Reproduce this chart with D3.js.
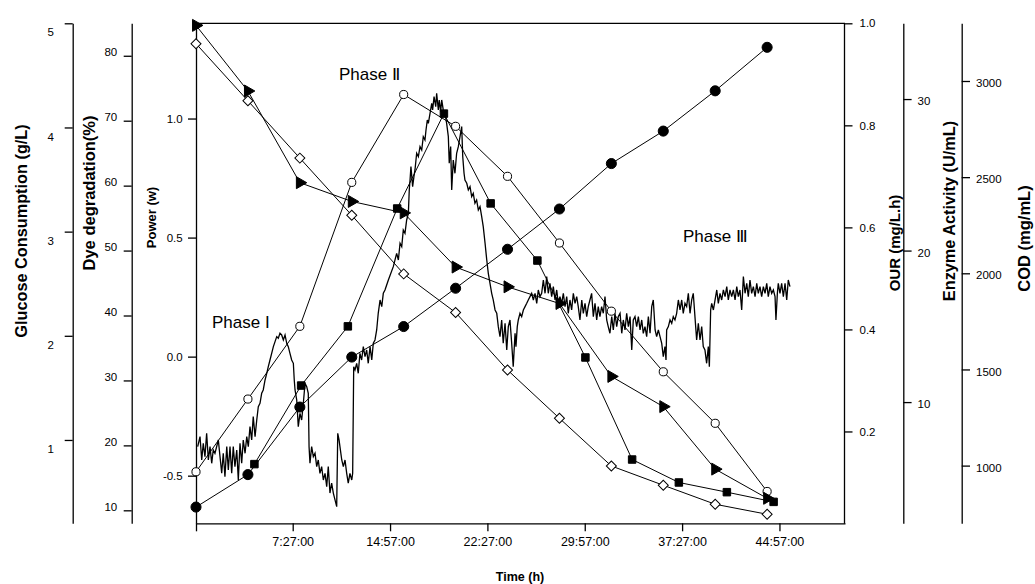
<!DOCTYPE html>
<html>
<head>
<meta charset="utf-8">
<script src="https://cdn.jsdelivr.net/npm/d3@7"></script>
<style>
body { margin: 0; background: #fff; }
text { font-family: "Liberation Sans", Arial, Helvetica, sans-serif; }
</style>
</head>
<body>
<svg id="chart" width="1035" height="584"></svg>
<script>

// time axis (h) and its tick labels
var xTickHours = [7.45, 14.95, 22.45, 29.95, 37.45, 44.95];
var xTickLabels = ["7:27:00", "14:57:00", "22:27:00", "29:57:00", "37:27:00", "44:57:00"];

// offline samples, every 4 h
var sampleHours = [0, 4, 8, 12, 16, 20, 24, 28, 32, 36, 40, 44];
var dyeDegradation = [10.5, 15.5, 25.9, 33.6, 38.3, 44.2, 50.2, 56.4, 63.4, 68.4, 74.6, 81.3];   // filled circles
var enzymeActivity = [5.4, 10.2, 15.0, 24.5, 30.3, 28.2, 24.9, 20.5, 16.0, 12.0, 8.6, 4.1];     // open circles
var glucose = [4.98, 4.35, 3.47, 3.29, 3.18, 2.66, 2.47, 2.31, 1.61, 1.32, 0.72, 0.44];           // triangles
var cod = [3194, 2897, 2599, 2302, 1997, 1796, 1497, 1246, 998, 898, 799, 747];                  // open diamonds

// OUR was sampled on its own schedule
var ourHours = [4.5, 8.1, 11.7, 15.5, 19.1, 22.7, 26.3, 30.0, 33.6, 37.2, 40.9, 44.5];
var ourValues = [0.136, 0.290, 0.406, 0.637, 0.823, 0.647, 0.535, 0.345, 0.145, 0.100, 0.081, 0.062];

// online power signal [h, W]
var powerTrace = [
[0.13,-0.378],[0.31,-0.336],[0.44,-0.434],[0.56,-0.364],[0.69,-0.420],[0.82,-0.322],[0.95,-0.434],[1.08,-0.378],
[1.21,-0.448],[1.33,-0.392],[1.46,-0.406],[1.72,-0.350],[1.85,-0.420],[1.98,-0.490],[2.10,-0.406],[2.23,-0.504],
[2.37,-0.378],[2.49,-0.476],[2.62,-0.378],[2.75,-0.490],[2.87,-0.378],[3.00,-0.462],[3.14,-0.392],[3.26,-0.518],
[3.39,-0.364],[3.52,-0.448],[3.64,-0.350],[3.78,-0.406],[3.91,-0.336],[4.03,-0.378],[4.16,-0.294],[4.29,-0.350],
[4.41,-0.252],[4.55,-0.336],[4.68,-0.266],[4.80,-0.210],[4.93,-0.196],[5.06,-0.154],[5.18,-0.140],[5.32,-0.098],
[5.45,-0.070],[5.57,-0.042],[5.70,-0.014],[5.83,0.014],[5.96,0.042],[6.09,0.063],[6.22,0.084],[6.34,0.077],
[6.47,0.098],[6.60,0.091],[6.73,0.070],[6.86,0.091],[6.99,0.056],[7.11,0.042],[7.24,0.014],[7.37,-0.014],
[7.50,-0.028],[7.57,-0.098],[7.63,-0.140],[7.76,-0.182],[7.88,-0.294],[8.01,-0.238],[8.14,-0.266],[8.27,-0.196],
[8.40,-0.112],[8.53,-0.126],[8.65,-0.154],[8.71,-0.378],[8.78,-0.448],[8.91,-0.378],[9.04,-0.420],[9.17,-0.406],
[9.30,-0.462],[9.42,-0.434],[9.55,-0.490],[9.68,-0.462],[9.81,-0.518],[9.94,-0.490],[10.07,-0.546],[10.19,-0.462],
[10.32,-0.573],[10.45,-0.531],[10.58,-0.573],[10.71,-0.602],[10.84,-0.630],[10.92,-0.322],[11.02,-0.350],[11.09,-0.378],
[11.23,-0.434],[11.35,-0.462],[11.48,-0.434],[11.61,-0.490],[11.73,-0.531],[11.86,-0.490],[12.00,-0.518],[12.07,-0.490],
[12.15,-0.042],[12.25,-0.056],[12.38,-0.028],[12.50,-0.070],[12.63,0.014],[12.76,-0.014],[12.89,0.042],[13.02,0.000],
[13.15,0.028],[13.27,-0.028],[13.41,0.042],[13.54,-0.014],[13.66,0.056],[13.79,0.070],[13.92,0.112],[14.04,0.182],
[14.18,0.238],[14.31,0.210],[14.43,0.266],[14.56,0.280],[14.82,0.322],[15.20,0.378],[15.46,0.434],[15.59,0.406],
[15.72,0.476],[15.85,0.462],[15.97,0.532],[16.10,0.518],[16.23,0.574],[16.36,0.602],[16.43,0.700],[16.49,0.742],
[16.56,0.798],[16.69,0.714],[16.79,0.756],[16.87,0.784],[17.00,0.854],[17.13,0.840],[17.26,0.882],[17.39,0.868],
[17.51,0.924],[17.64,0.910],[17.72,0.952],[17.82,0.994],[17.90,0.980],[18.03,1.022],[18.16,1.064],[18.23,1.036],
[18.34,1.092],[18.47,1.050],[18.54,1.106],[18.67,1.036],[18.74,1.078],[18.85,1.029],[18.93,1.078],[19.05,1.036],
[19.18,1.022],[19.31,0.980],[19.44,0.924],[19.51,0.812],[19.62,0.882],[19.70,0.700],[19.82,0.826],[19.95,0.770],
[20.08,0.854],[20.21,0.882],[20.34,0.924],[20.47,0.966],[20.55,0.840],[20.65,0.770],[20.72,0.742],[20.86,0.728],
[20.98,0.700],[21.11,0.714],[21.24,0.672],[21.36,0.686],[21.49,0.644],[21.62,0.658],[21.75,0.616],[21.88,0.630],
[22.01,0.588],[22.13,0.546],[22.27,0.476],[22.40,0.406],[22.52,0.350],[22.65,0.308],[22.78,0.266],[22.90,0.238],
[23.04,0.196],[23.17,0.182],[23.29,0.126],[23.42,0.084],[23.55,0.154],[23.67,0.056],[23.81,0.140],[23.94,0.028],
[24.06,0.126],[24.19,0.154],[24.32,0.056],[24.44,-0.042],[24.58,0.098],[24.65,0.042],[24.75,0.126],[24.83,0.154],
[24.96,0.182],[25.09,0.168],[25.22,0.196],[25.35,0.210],[25.48,0.224],[25.60,0.238],[25.73,0.252],[25.86,0.266],
[25.99,0.238],[26.12,0.266],[26.25,0.224],[26.37,0.280],[26.50,0.252],[26.63,0.266],[26.76,0.322],[26.89,0.266],
[27.02,0.336],[27.14,0.266],[27.27,0.308],[27.40,0.252],[27.53,0.294],[27.66,0.238],[27.79,0.280],[27.91,0.224],
[28.04,0.252],[28.17,0.224],[28.30,0.266],[28.43,0.210],[28.56,0.252],[28.68,0.182],[28.81,0.238],[28.94,0.196],
[29.07,0.266],[29.20,0.224],[29.33,0.252],[29.45,0.210],[29.58,0.154],[29.72,0.238],[29.84,0.182],[29.97,0.224],
[30.10,0.168],[30.22,0.210],[30.35,0.238],[30.48,0.266],[30.61,0.168],[30.74,0.224],[30.87,0.154],[30.99,0.210],
[31.12,0.168],[31.25,0.210],[31.38,0.182],[31.51,0.252],[31.64,0.154],[31.76,0.126],[31.89,0.098],[32.03,0.168],
[32.15,0.112],[32.28,0.182],[32.41,0.126],[32.53,0.168],[32.67,0.182],[32.80,0.098],[32.92,0.154],[33.05,0.112],
[33.18,0.182],[33.31,0.126],[33.44,0.168],[33.57,0.028],[33.69,0.154],[33.82,0.168],[33.95,0.126],[34.08,0.168],
[34.21,0.112],[34.34,0.154],[34.46,0.098],[34.59,0.126],[34.72,0.084],[34.85,0.168],[34.98,0.098],[35.11,0.210],
[35.23,0.238],[35.37,0.112],[35.49,0.084],[35.62,0.112],[35.75,0.084],[35.88,0.056],[36.00,0.000],[36.13,0.042],
[36.21,-0.014],[36.26,0.112],[36.39,0.126],[36.52,0.154],[36.65,0.140],[36.77,0.168],[36.90,0.154],[37.03,0.182],
[37.16,0.238],[37.29,0.196],[37.42,0.238],[37.54,0.182],[37.67,0.224],[37.80,0.210],[37.93,0.266],[38.06,0.182],
[38.19,0.238],[38.31,0.266],[38.44,0.168],[38.57,0.070],[38.70,0.140],[38.83,0.070],[38.96,0.126],[39.08,0.042],
[39.21,0.028],[39.34,-0.028],[39.47,0.042],[39.55,-0.042],[39.65,0.196],[39.73,0.224],[39.86,0.196],[39.99,0.238],
[40.12,0.280],[40.24,0.224],[40.37,0.266],[40.50,0.238],[40.63,0.280],[40.76,0.252],[40.89,0.294],[41.01,0.238],
[41.14,0.280],[41.27,0.252],[41.40,0.280],[41.53,0.238],[41.66,0.294],[41.78,0.252],[41.91,0.280],[42.04,0.196],
[42.17,0.336],[42.30,0.266],[42.43,0.308],[42.55,0.252],[42.68,0.322],[42.81,0.266],[42.94,0.294],[43.07,0.252],
[43.20,0.308],[43.32,0.266],[43.45,0.294],[43.58,0.252],[43.71,0.294],[43.84,0.266],[43.97,0.308],[44.09,0.252],
[44.22,0.294],[44.35,0.266],[44.48,0.280],[44.61,0.252],[44.68,0.154],[44.79,0.266],[44.86,0.308],[44.99,0.266],
[45.12,0.308],[45.25,0.252],[45.38,0.308],[45.51,0.238],[45.63,0.322],[45.76,0.294]
];

var svg = d3.select("#chart");
var top_ = 23.3, bottom = 523.3;

var x = d3.scaleLinear().domain([0, 50]).range([196, 845]);
var yPower = d3.scaleLinear().domain([-0.7, 1.4]).range([bottom, top_]);
var yGlu = d3.scaleLinear().domain([0.2, 5]).range([bottom, top_]);
var yDye = d3.scaleLinear().domain([8, 85]).range([bottom, top_]);
var yOur = d3.scaleLinear().domain([0.02, 1.0]).range([bottom, top_]);
var yEnz = d3.scaleLinear().domain([2, 35]).range([bottom, top_]);
var yCod = d3.scaleLinear().domain([700, 3300]).range([bottom, top_]);

function styleAxis(g, size) {
    g.selectAll("path, line").attr("stroke", "#000").attr("stroke-width", 1.3);
    g.selectAll("text").attr("fill", "#000").style("font-size", size + "px")
        .style("font-family", "'Liberation Sans', Arial, sans-serif");
}
var fmt1 = function(d){ return d.toFixed(1); };
var fmtInt = d3.format("d");

// bottom time axis
var gx = svg.append("g").attr("transform", "translate(0," + bottom + ")")
    .call(d3.axisBottom(x).tickValues([0].concat(xTickHours))
        .tickFormat(function(d, i){ return i == 0 ? "" : xTickLabels[i - 1]; })
        .tickSize(8).tickSizeOuter(0).tickPadding(6));
styleAxis(gx, 12.5);

// top frame
svg.append("line").attr("x1", x.range()[0]).attr("x2", x.range()[1])
    .attr("y1", top_).attr("y2", top_).attr("stroke", "#000").attr("stroke-width", 1.3);

// left axes
var gGlu = svg.append("g").attr("transform", "translate(72.7,0)")
    .call(d3.axisLeft(yGlu).tickValues([1, 2, 3, 4, 5]).tickFormat(fmtInt).tickSize(8).tickSizeOuter(0));
styleAxis(gGlu, 11.5);
gGlu.selectAll(".tick text").attr("x", -22).attr("y", 9).attr("text-anchor", "middle");

var gDye = svg.append("g").attr("transform", "translate(131.7,0)")
    .call(d3.axisLeft(yDye).tickValues([10, 20, 30, 40, 50, 60, 70, 80]).tickFormat(fmtInt).tickSize(8).tickSizeOuter(0).tickPadding(6.5));
styleAxis(gDye, 11.5);
gDye.selectAll(".tick text").attr("y", -4);

var gPow = svg.append("g").attr("transform", "translate(196,0)")
    .call(d3.axisLeft(yPower).tickValues([-0.5, 0, 0.5, 1.0]).tickFormat(fmt1).tickSize(8).tickSizeOuter(0).tickPadding(5.3));
styleAxis(gPow, 11.5);

// right axes
var gOur = svg.append("g").attr("transform", "translate(844,0)")
    .call(d3.axisRight(yOur).tickValues([0.2, 0.4, 0.6, 0.8, 1.0]).tickFormat(fmt1).tickSize(8.5).tickSizeOuter(0).tickPadding(7));
styleAxis(gOur, 11.5);

var gEnz = svg.append("g").attr("transform", "translate(903.3,0)")
    .call(d3.axisRight(yEnz).tickValues([10, 20, 30]).tickFormat(fmtInt).tickSize(8.3).tickSizeOuter(0).tickPadding(6));
styleAxis(gEnz, 11.5);
gEnz.selectAll(".tick text").attr("y", 2);

var gCod = svg.append("g").attr("transform", "translate(961.7,0)")
    .call(d3.axisRight(yCod).tickValues([1000, 1500, 2000, 2500, 3000]).tickFormat(fmtInt).tickSize(8.3).tickSizeOuter(0).tickPadding(6));
styleAxis(gCod, 11.5);
gCod.selectAll(".tick text").attr("y", 2);

// axis titles
function vTitle(label, cx, cy, size) {
    svg.append("text").attr("transform", "translate(" + cx + "," + cy + ") rotate(-90)")
        .attr("text-anchor", "middle").attr("dy", "0.35em")
        .style("font-size", size + "px").style("font-weight", "bold").text(label);
}
vTitle("Glucose Consumption (g/L)", 20.8, 231, 16.3);
vTitle("Dye  degradation(%)", 89, 193, 16.5);
vTitle("Power (w)", 151.5, 217.5, 13);
vTitle("OUR (mg/L.h)", 894.7, 243, 15);
vTitle("Enzyme Activity (U/mL)", 949, 211, 16.3);
vTitle("COD (mg/mL)", 1024.5, 238.5, 16.5);

svg.append("text").attr("x", 520).attr("y", 581).attr("text-anchor", "middle")
    .style("font-size", "12.5px").style("font-weight", "bold").text("Time (h)");

// phase notes
svg.append("text").attr("x", 212).attr("y", 328).style("font-size", "17px").text("Phase I");
svg.append("text").attr("x", 339).attr("y", 80).style("font-size", "17px").text("Phase \u2161");
svg.append("text").attr("x", 683).attr("y", 242).style("font-size", "17px").text("Phase \u2162");

// power trace
svg.append("path").datum(powerTrace)
    .attr("fill", "none").attr("stroke", "#000").attr("stroke-width", 1.3)
    .attr("d", d3.line().x(function(d){ return x(d[0]); }).y(function(d){ return yPower(d[1]); }));

// sampled series
var series = [
    { t: sampleHours, v: dyeDegradation, y: yDye, sym: d3.symbolCircle, size: 80, fill: "#000", rot: 0 },
    { t: sampleHours, v: enzymeActivity, y: yEnz, sym: d3.symbolCircle, size: 52, fill: "#fff", rot: 0 },
    { t: ourHours, v: ourValues, y: yOur, sym: d3.symbolSquare, size: 56, fill: "#000", rot: 0 },
    { t: sampleHours, v: glucose, y: yGlu, sym: d3.symbolTriangle, size: 62, fill: "#000", rot: 90 },
    { t: sampleHours, v: cod, y: yCod, sym: d3.symbolSquare, size: 50, fill: "#fff", rot: 45 }
];

series.forEach(function(s) {
    var pts = s.t.map(function(t, i){ return [x(t), s.y(s.v[i])]; });
    svg.append("path").datum(pts).attr("fill", "none").attr("stroke", "#000").attr("stroke-width", 1)
        .attr("d", d3.line());
});
series.forEach(function(s) {
    var pts = s.t.map(function(t, i){ return [x(t), s.y(s.v[i])]; });
    svg.append("g").selectAll("path").data(pts).enter().append("path")
        .attr("transform", function(d){ return "translate(" + d[0] + "," + d[1] + ") rotate(" + s.rot + ")"; })
        .attr("d", d3.symbol().type(s.sym).size(s.size))
        .attr("fill", s.fill).attr("stroke", "#000").attr("stroke-width", 1);
});

</script>
</body>
</html>
